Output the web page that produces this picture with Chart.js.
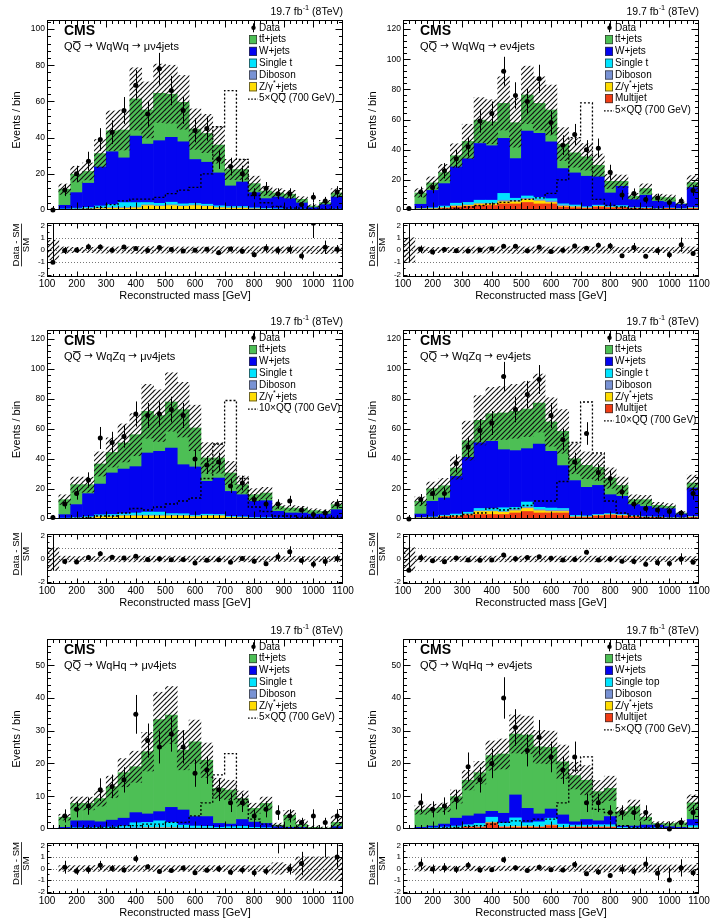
<!DOCTYPE html>
<html>
<head>
<meta charset="utf-8">
<script src="https://cdn.jsdelivr.net/npm/chart.js@4.4.1/dist/chart.umd.min.js"></script>
<style>
  body { margin: 0; background: #fff; width: 717px; height: 922px; position: relative; overflow: hidden; }
  .box { position: absolute; }
</style>
</head>
<body>
<script>
// bins: 100..1100 GeV in 40 GeV steps
const binEdges = [100,140,180,220,260,300,340,380,420,460,500,540,580,620,660,700,740,780,820,860,900,940,980,1020,1060,1100];
const binCenters = [120,160,200,240,280,320,360,400,440,480,520,560,600,640,680,720,760,800,840,880,920,960,1000,1040,1080];
const xTicks = [100,200,300,400,500,600,700,800,900,1000,1100];
const ratioTicks = [-2,-1,0,1,2];

// WqWq, mu
const p1_tt = [0.2,8.9,10.2,6.5,7.4,11.6,15.4,20.6,18.9,26.2,23.9,21.8,16.8,15.9,15.4,9.1,6.9,5.0,4.2,2.2,2.4,2.0,0.9,1.1,2.2];
const p1_w = [0,2.0,8.6,13.4,21.6,29.2,24.7,36.7,32.3,34.6,35.8,34.3,24.3,23.2,18.2,11.4,13.6,8.4,5.4,6.5,5.8,3.4,1.0,2.7,6.7];
const p1_st = [0,0.3,0.4,0.6,1,1.6,2.6,2.4,1.2,1.2,1.4,1,0.8,0.8,0.8,0.6,0.6,0.4,0.3,0.3,0.2,0.2,0.1,0.1,0.2];
const p1_vv = [0,0.1,0.2,0.2,0.4,0.4,0.5,0.5,0.5,0.5,0.5,0.4,0.4,0.4,0.3,0.3,0.3,0.2,0.2,0.1,0.1,0.1,0.1,0.1,0.1];
const p1_zj = [0,0.2,0.4,0.6,0.8,1,1,1.2,2.4,2,2.4,2,2.4,2,1.2,1,1,0.6,0.4,0.3,0.2,0.2,0.1,0.1,0.2];
const p1_data = [0,11,20,27,39,43,55,69,53,78,66,55,44,45,28,24,20,9,12,9,9,3,7,5,10];
const p1_sig = [0,0,0.3,0.5,1.5,3,5,6,6,7,9,11,12.5,20,46,66,28,8,4,2,1,1,0.5,0.5,0.5];
const p1_unc = [0.8,0.25,0.22,0.22,0.25,0.25,0.25,0.28,0.28,0.25,0.25,0.25,0.25,0.25,0.28,0.25,0.25,0.28,0.25,0.25,0.25,0.25,0.3,0.3,0.25];

// WqWq, e
const p2_tt = [0.1,7.5,5,7.3,7.4,11.5,15.5,15.9,23.2,23.8,24,19.9,21.1,16.2,13.3,12.9,7.7,7.7,3.3,2.2,4.4,2.8,2.9,0.4,3.3];
const p2_w = [0.1,2.7,11.5,14.9,24.1,29,37.6,36.1,36.5,26.3,43,42.5,37.7,23.4,21.3,20.2,18.8,8.8,12.8,5.2,8.2,4.9,3.9,3,13.2];
const p2_st = [0,0.3,0.5,1,1.5,1.5,2,2,4.5,1.5,1.5,1.5,1.5,0.8,0.8,0.6,0.6,0.5,1,0.3,0.3,0.2,0.2,0.1,0.3];
const p2_vv = [0,0.1,0.2,0.2,0.5,0.5,0.5,0.5,1,0.8,0.8,0.8,1,0.8,0.5,0.3,0.3,0.3,0.2,0.2,0.2,0.1,0.1,0.1,0.2];
const p2_zj = [0,0.2,0.3,0.4,0.5,0.5,1,1,1.5,1.5,2,2,1,0.5,0.5,0.3,0.3,0.2,0.2,0.2,0.1,0.1,0.1,0.1,0.2];
const p2_mj = [0,0.5,0.5,1,2,2.5,3,3,4,4,5,4,4,2,1.5,1,2,1.5,1.5,1,1,0.5,1,0.5,1];
const p2_data = [1,12,15,26,34,42,59,64,92,76,72,87,58,43,50,40,41,25,10,11,7,8,5,6,13];
const p2_sig = [0,0,0.2,0.5,1,2,3,4,5,6,7,8,11,20,48,71,7,3,2,1,0.5,0.5,0.3,0.3,0.3];
const p2_unc = [1,0.25,0.22,0.22,0.22,0.25,0.25,0.25,0.25,0.28,0.25,0.25,0.25,0.25,0.25,0.25,0.25,0.25,0.22,0.22,0.22,0.22,0.22,0.25,0.25];

// WqZq, mu
const p3_tt = [0.1,10,13.3,6,13.4,13.7,17.4,21.3,27.8,23.8,30.7,36.7,26,15.6,13.4,12.3,6.7,4.4,5.1,3.3,3.3,2.9,2.3,1.8,3.4];
const p3_w = [0.1,2.3,8.6,15.3,20.5,27.7,29.8,30.9,39.4,40.5,43.7,32.7,32.2,21.9,24.3,16.6,14.7,10.8,11.3,4.5,3.5,3.5,2.9,2.9,5.7];
const p3_st = [0,0.2,0.3,0.5,0.8,1,1,1.5,2,2,1,1,0.6,0.8,0.6,0.5,0.4,0.3,0.3,0.2,0.2,0.2,0.1,0.1,0.2];
const p3_vv = [0,0.1,0.2,0.3,0.5,0.5,0.5,0.5,0.6,0.6,0.6,0.5,0.4,0.4,0.4,0.3,0.3,0.2,0.2,0.1,0.1,0.1,0.1,0.1,0.1];
const p3_zj = [0,0.3,0.5,0.8,1.5,1.5,2,2,2,2,2,2,1.5,2,2,1,0.8,0.5,0.4,0.3,0.2,0.2,0.2,0.2,0.2];
const p3_data = [1,10,17,26,54,51,55,70,69,70,73,69,40,36,38,22,24,13,10,10,12,6,3,4,10];
const p3_sig = [0,0,0.5,1,2,2,4,7,6,8,10,12,14,27,50,79,27,8,5,2,2,1,1,1,1];
const p3_unc = [1,0.25,0.22,0.22,0.22,0.22,0.25,0.25,0.25,0.25,0.25,0.25,0.25,0.25,0.25,0.25,0.25,0.25,0.22,0.22,0.22,0.22,0.22,0.22,0.22];

// WqZq, e
const p4_tt = [0.1,8.5,8.4,8.2,5.6,11.1,15.1,18.4,24.5,26.2,26.4,27.3,19.6,22.8,14.6,14.7,12,11.1,7.3,3.3,4.5,1.8,1.5,0.7,3.3];
const p4_w = [0.1,2.3,10.4,11.5,25.1,36.6,43.7,44.8,38.7,37.8,35.6,42.2,37.8,28.6,23.2,19,19.4,12.6,12.1,7.4,6.8,5.9,6,2.5,18.9];
const p4_st = [0,0.2,0.5,0.5,1,1,1.5,1.5,2.5,1.5,3.5,1.5,1.5,1,0.6,0.5,0.4,0.5,0.4,0.3,0.2,0.2,0.2,0.1,0.3];
const p4_vv = [0,0.1,0.1,0.2,0.3,0.5,0.5,0.5,0.5,0.8,0.8,0.8,0.8,1,0.5,0.3,0.3,0.3,0.3,0.2,0.2,0.1,0.1,0.1,0.2];
const p4_zj = [0,0.2,0.3,0.3,0.5,0.5,2,2,1.5,1.5,2,1.5,1,1,0.3,0.3,0.3,0.3,0.3,0.2,0.2,0.1,0.1,0.1,0.3];
const p4_mj = [0,0.5,0.5,1.5,1.5,2.5,3,3,3,4,5,4,4,4,1,1,2,2.5,2,1.5,1,1,0.5,0.5,1];
const p4_data = [0,13,17,17,37,48,59,64,95,73,83,93,69,53,38,57,31,27,18,10,7,6,5,4,17];
const p4_sig = [0,0,0.5,1,2,3,4,7,6,7,9,12,12,25,51,78,44,12,4,2,1,1,0.5,0.5,0.5];
const p4_unc = [1,0.25,0.22,0.22,0.22,0.25,0.25,0.25,0.25,0.25,0.25,0.25,0.25,0.25,0.25,0.25,0.25,0.25,0.25,0.25,0.22,0.22,0.22,0.22,0.22];

// WqHq, mu
const p5_tt = [0,3.1,5.3,5.3,7.1,10.2,13.9,14,19,28.1,28.2,18.3,22.8,17.2,10.7,10.4,6.4,4.2,6.1,0.5,3.7,0.9,0.3,0.2,1.3];
const p5_w = [0,0.4,2.1,2.1,1.7,2.1,2.4,3.1,2.6,2.8,4.6,4.6,2.9,3,1.2,0.8,2.1,1.6,1.3,0.6,0.4,0.4,0.2,0.1,0.6];
const p5_st = [0,0.1,0.2,0.2,0.3,0.4,0.6,1.5,1.5,2,1.5,0.8,0.6,0.5,0.3,0.5,0.6,0.3,0.2,0.1,0.1,0.1,0,0,0.1];
const p5_vv = [0,0,0.1,0.1,0.1,0.1,0.1,0.2,0.2,0.2,0.2,0.2,0.1,0.1,0.1,0.1,0.1,0.1,0.1,0,0,0,0,0,0];
const p5_zj = [0,0,0.1,0.1,0.1,0.1,0.2,0.2,0.3,0.3,0.3,0.2,0.2,0.2,0.1,0.1,0.1,0.1,0.1,0,0,0,0,0,0];
const p5_data = [null,4,6,7,12,13,15,35,27,25,29,25,17,18,12,8,8,4,6,5,4,2,4,2,4];
const p5_sig = [0,0,0.2,0.3,0.5,0.5,1,1,1.5,1.5,2,2,4,8,16.5,23,9,3,1.5,1,0.5,0.3,0.2,0.2,0.2];
const p5_unc = [0,0.25,0.25,0.25,0.25,0.25,0.25,0.25,0.25,0.25,0.25,0.25,0.25,0.25,0.25,0.25,0.25,0.25,0.25,0.5,0.35,1,1,1,1];

// WqHq, e
const p6_tt = [0,5.3,5.4,5.1,6.6,10.9,12.6,17,18.1,18.6,22.4,20.5,18.8,16.2,14.1,12,8.9,8.6,4.4,5.9,2.4,0.5,1,1.4,5.1];
const p6_w = [0,0.3,0.5,0.9,2.4,2.7,2.9,1.8,3,7,4.4,2.4,2.8,2.8,1,1.7,1.2,2.5,0.4,0.5,0.9,0.8,0.5,0.4,1.9];
const p6_st = [0,0.2,0.2,0.3,0.5,0.6,1,1.5,1,2.5,1,1.5,2,1,0.5,0.5,0.6,0.6,0.2,0.2,0.2,0.3,0.1,0.1,0.6];
const p6_vv = [0,0,0.1,0.1,0.1,0.1,0.1,0.2,0.2,0.2,0.2,0.1,0.2,0.1,0.1,0.1,0.1,0.1,0.1,0,0,0,0,0,0.1];
const p6_zj = [0,0,0,0.1,0.1,0.1,0.1,0.1,0.1,0.2,0.2,0.1,0.1,0.1,0.1,0.1,0.1,0.1,0,0,0,0,0,0,0.1];
const p6_mj = [0,0,0.1,0.1,0.2,0.5,0.5,1.8,0.5,0.5,0.5,0.5,1,0.3,0.5,0.5,0.5,0.5,0.2,0.2,0.1,0.1,0.1,0,0.2];
const p6_data = [null,8,6,7,9,19,15,20,40,31,24,28,22,18,22,8,8,5,5,5,5,1,0,2,5];
const p6_sig = [0,0,0.2,0.3,0.5,0.8,1,1.5,2,2.5,2.5,3,3,8,18,22,6,5,1,0.5,0.3,0.3,0.2,0.2,0.2];
const p6_unc = [0,0.22,0.2,0.2,0.2,0.2,0.2,0.2,0.2,0.2,0.2,0.2,0.2,0.25,0.25,0.3,0.3,0.3,0.25,0.3,0.3,0.3,0.3,0.3,0.3];

const COLORS = { tt: '#4dbf55', w: '#0303f0', st: '#00e4ff', vv: '#7892d4', zj: '#ffdc00', mj: '#f03c14' };
const FONT = '"Liberation Sans", Arial, Helvetica, sans-serif';
const ARROW_FONT = '"DejaVu Sans", sans-serif';

const panels = [
  { col: 0, row: 0, ymax: 105, yTicks: [0,20,40,60,80,100], yStep: 4, proc: 'WqWq', lep: 'μ', scale: '5', stLabel: 'Single t',
    tt: p1_tt, w: p1_w, st: p1_st, vv: p1_vv, zj: p1_zj, mj: null, data: p1_data, sig: p1_sig, unc: p1_unc },
  { col: 1, row: 0, ymax: 126, yTicks: [0,20,40,60,80,100,120], yStep: 4, proc: 'WqWq', lep: 'e', scale: '5', stLabel: 'Single t',
    tt: p2_tt, w: p2_w, st: p2_st, vv: p2_vv, zj: p2_zj, mj: p2_mj, data: p2_data, sig: p2_sig, unc: p2_unc },
  { col: 0, row: 1, ymax: 126, yTicks: [0,20,40,60,80,100,120], yStep: 4, proc: 'WqZq', lep: 'μ', scale: '10', stLabel: 'Single t',
    tt: p3_tt, w: p3_w, st: p3_st, vv: p3_vv, zj: p3_zj, mj: null, data: p3_data, sig: p3_sig, unc: p3_unc },
  { col: 1, row: 1, ymax: 126, yTicks: [0,20,40,60,80,100,120], yStep: 4, proc: 'WqZq', lep: 'e', scale: '10', stLabel: 'Single t',
    tt: p4_tt, w: p4_w, st: p4_st, vv: p4_vv, zj: p4_zj, mj: p4_mj, data: p4_data, sig: p4_sig, unc: p4_unc },
  { col: 0, row: 2, ymax: 58, yTicks: [0,10,20,30,40,50], yStep: 2, proc: 'WqHq', lep: 'μ', scale: '5', stLabel: 'Single t',
    tt: p5_tt, w: p5_w, st: p5_st, vv: p5_vv, zj: p5_zj, mj: null, data: p5_data, sig: p5_sig, unc: p5_unc },
  { col: 1, row: 2, ymax: 58, yTicks: [0,10,20,30,40,50], yStep: 2, proc: 'WqHq', lep: 'e', scale: '5', stLabel: 'Single top',
    tt: p6_tt, w: p6_w, st: p6_st, vv: p6_vv, zj: p6_zj, mj: p6_mj, data: p6_data, sig: p6_sig, unc: p6_unc }
];

const COL_LEFT = [47, 403];
const FRAME_W = 296;
const ROWS = [
  { mt: 20, mb: 210, rt: 223, rb: 277 },
  { mt: 330, mb: 519, rt: 534, rb: 584 },
  { mt: 639, mb: 829, rt: 843, rb: 894 }
];

Chart.defaults.font.family = FONT;
Chart.defaults.color = '#000';
Chart.defaults.animation = false;
Chart.defaults.plugins.legend.display = false;
Chart.defaults.plugins.tooltip.enabled = false;

function makeHatch() {
  const c = document.createElement('canvas');
  c.width = 5; c.height = 5;
  const g = c.getContext('2d');
  g.strokeStyle = '#111';
  g.lineWidth = 1.1;
  g.beginPath();
  g.moveTo(-1, 6); g.lineTo(6, -1);
  g.moveTo(-1, 1); g.lineTo(1, -1);
  g.moveTo(4, 6); g.lineTo(6, 4);
  g.stroke();
  return g.createPattern(c, 'repeat');
}
const hatch = makeHatch();

// text with superscripts and overbars
function rich(ctx, segs, x, y, size, align) {
  const parts = segs.map(s => {
    const fs = s.sup ? size * 0.7 : (s.arrow ? size * 0.95 : size);
    const f = (s.bold ? 'bold ' : '') + fs + 'px ' + (s.arrow ? ARROW_FONT : FONT);
    ctx.font = f;
    return { s, f, w: ctx.measureText(s.t).width };
  });
  const total = parts.reduce((a, p) => a + p.w, 0);
  let cx = align === 'right' ? x - total : align === 'center' ? x - total / 2 : x;
  ctx.textAlign = 'left';
  ctx.textBaseline = 'middle';
  parts.forEach(p => {
    ctx.font = p.f;
    ctx.fillText(p.s.t, cx, p.s.sup ? y - size * 0.38 : y);
    if (p.s.over) {
      const oy = Math.round(y - size * 0.52) + 0.5;
      ctx.save();
      ctx.lineWidth = 0.8;
      ctx.beginPath(); ctx.moveTo(cx + 0.5, oy); ctx.lineTo(cx + p.w - 0.5, oy); ctx.stroke();
      ctx.restore();
    }
    cx += p.w;
  });
}

const deco = {
  id: 'deco',
  beforeDatasetsDraw(chart, args, o) {
    if (!o.refLines) return;
    const { ctx, chartArea: a, scales: { y } } = chart;
    ctx.save();
    ctx.strokeStyle = '#777';
    ctx.lineWidth = 1;
    ctx.setLineDash([1, 2]);
    o.refLines.forEach(v => {
      const py = Math.round(y.getPixelForValue(v)) + 0.5;
      ctx.beginPath(); ctx.moveTo(a.left, py); ctx.lineTo(a.right, py); ctx.stroke();
    });
    ctx.restore();
  },
  afterDatasetsDraw(chart) {
    const { ctx, chartArea: a, scales: { x, y } } = chart;
    ctx.save();
    ctx.beginPath(); ctx.rect(a.left, a.top, a.width, a.height); ctx.clip();
    ctx.strokeStyle = '#000';
    ctx.lineWidth = 1;
    chart.data.datasets.forEach(ds => {
      if (!ds.errLo) return;
      ds.data.forEach((p, i) => {
        if (ds.errLo[i] == null) return;
        const px = Math.round(x.getPixelForValue(p.x)) + 0.5;
        ctx.beginPath();
        ctx.moveTo(px, y.getPixelForValue(ds.errLo[i]));
        ctx.lineTo(px, y.getPixelForValue(ds.errHi[i]));
        ctx.stroke();
      });
    });
    ctx.restore();
  },
  afterDraw(chart, args, o) {
    const { ctx, chartArea: a, scales: { x, y } } = chart;
    const L = Math.round(a.left) + 0.5, R = Math.round(a.right) - 0.5;
    const T = Math.round(a.top) + 0.5, B = Math.round(a.bottom) - 0.5;
    ctx.save();
    ctx.strokeStyle = '#000';
    ctx.fillStyle = '#000';
    ctx.lineWidth = 1;
    // inward ticks on all four sides
    ctx.beginPath();
    for (let k = Math.ceil(x.min / o.xStep - 1e-6); k * o.xStep < x.max - 1e-6; k++) {
      const v = k * o.xStep;
      if (v <= x.min + 1e-6) continue;
      const len = Math.abs(k % o.xEvery) === 0 ? o.xLen[0] : o.xLen[1];
      const px = Math.round(x.getPixelForValue(v)) + 0.5;
      ctx.moveTo(px, B); ctx.lineTo(px, B - len);
      ctx.moveTo(px, T); ctx.lineTo(px, T + len);
    }
    for (let k = Math.ceil(y.min / o.yStep - 1e-6); k * o.yStep < y.max - 1e-6; k++) {
      const v = k * o.yStep;
      if (v <= y.min + 1e-6) continue;
      const len = Math.abs(k % o.yEvery) === 0 ? o.yLen[0] : o.yLen[1];
      const py = Math.round(y.getPixelForValue(v)) + 0.5;
      ctx.moveTo(L, py); ctx.lineTo(L + len, py);
      ctx.moveTo(R, py); ctx.lineTo(R - len, py);
    }
    ctx.stroke();
    ctx.strokeRect(L, T, R - L, B - T);

    if (o.kind === 'main') {
      rich(ctx, [{ t: '19.7 fb' }, { t: '-1', sup: true }, { t: ' (8TeV)' }], a.right, a.top - 8, 10.5, 'right');
      rich(ctx, [{ t: 'CMS', bold: true }], a.left + 17, a.top + 11, 14, 'left');
      rich(ctx, o.process, a.left + 17, a.top + 26.5, 11, 'left');
      // legend
      o.legend.forEach((e, i) => {
        const cy = a.top + 7.8 + i * 11.8;
        const bx = a.left + 202;
        if (e.kind === 'box') {
          ctx.fillStyle = e.color;
          ctx.fillRect(bx, cy - 4.5, 8, 9);
          ctx.strokeStyle = '#333';
          ctx.lineWidth = 0.7;
          ctx.strokeRect(bx + 0.35, cy - 4.15, 7.3, 8.3);
        } else if (e.kind === 'data') {
          ctx.fillStyle = '#000';
          ctx.beginPath(); ctx.arc(bx + 4.5, cy, 2.2, 0, Math.PI * 2); ctx.fill();
          ctx.strokeStyle = '#000'; ctx.lineWidth = 1;
          ctx.beginPath(); ctx.moveTo(bx + 4.5, cy - 4.5); ctx.lineTo(bx + 4.5, cy + 4.5); ctx.stroke();
        } else {
          ctx.strokeStyle = '#000'; ctx.lineWidth = 1.4;
          ctx.setLineDash([1.6, 1.6]);
          ctx.beginPath(); ctx.moveTo(bx - 1, cy + 0.5); ctx.lineTo(bx + 9, cy + 0.5); ctx.stroke();
          ctx.setLineDash([]);
        }
        ctx.fillStyle = '#000';
        ctx.strokeStyle = '#000';
        rich(ctx, e.segs, bx + 10, cy, 10, 'left');
      });
      // y title
      ctx.save();
      ctx.translate(a.left - 30, (a.top + a.bottom) / 2 + 5);
      ctx.rotate(-Math.PI / 2);
      ctx.font = '11px ' + FONT;
      ctx.textAlign = 'center'; ctx.textBaseline = 'middle';
      ctx.fillText('Events / bin', 0, 0);
      ctx.restore();
    } else {
      // fraction title
      ctx.save();
      ctx.translate(a.left - 26, (a.top + a.bottom) / 2 - 5);
      ctx.rotate(-Math.PI / 2);
      ctx.font = '9.5px ' + FONT;
      ctx.textAlign = 'center'; ctx.textBaseline = 'middle';
      ctx.fillText('Data - SM', 0, -5);
      ctx.fillText('SM', 0, 5.5);
      const w = ctx.measureText('Data - SM').width;
      ctx.lineWidth = 0.8;
      ctx.beginPath(); ctx.moveTo(-w / 2, 0.5); ctx.lineTo(w / 2, 0.5); ctx.stroke();
      ctx.restore();
      ctx.font = '11px ' + FONT;
      ctx.textAlign = 'center'; ctx.textBaseline = 'middle';
      ctx.fillText('Reconstructed mass [GeV]', a.left + 138, a.bottom + 19);
    }
    ctx.restore();
  }
};

function makeBox(left, top, w, h) {
  const d = document.createElement('div');
  d.className = 'box';
  d.style.left = left + 'px';
  d.style.top = top + 'px';
  d.style.width = w + 'px';
  d.style.height = h + 'px';
  const c = document.createElement('canvas');
  d.appendChild(c);
  document.body.appendChild(d);
  return c;
}

function legendFor(p) {
  const L = [
    { kind: 'data', segs: [{ t: 'Data' }] },
    { kind: 'box', color: COLORS.tt, segs: [{ t: 't' }, { t: 't', over: true }, { t: '+jets' }] },
    { kind: 'box', color: COLORS.w, segs: [{ t: 'W+jets' }] },
    { kind: 'box', color: COLORS.st, segs: [{ t: p.stLabel }] },
    { kind: 'box', color: COLORS.vv, segs: [{ t: 'Diboson' }] },
    { kind: 'box', color: COLORS.zj, segs: [{ t: 'Z/γ' }, { t: '*', sup: true }, { t: '+jets' }] }
  ];
  if (p.mj) L.push({ kind: 'box', color: COLORS.mj, segs: [{ t: 'Multijet' }] });
  L.push({ kind: 'dash', segs: [{ t: p.scale + '×Q' }, { t: 'Q', over: true }, { t: ' (700 GeV)' }] });
  return L;
}

function buildPanel(p) {
  const fl = COL_LEFT[p.col];
  const r = ROWS[p.row];
  const left = fl - 47;
  const W = 47 + FRAME_W + 14;

  // stack order, bottom to top
  const comps = [];
  if (p.mj) comps.push({ arr: p.mj, color: COLORS.mj });
  comps.push({ arr: p.zj, color: COLORS.zj });
  comps.push({ arr: p.vv, color: COLORS.vv });
  comps.push({ arr: p.st, color: COLORS.st });
  comps.push({ arr: p.w, color: COLORS.w });
  comps.push({ arr: p.tt, color: COLORS.tt });
  const total = binCenters.map((_, i) => comps.reduce((s, c) => s + c.arr[i], 0));

  const errLo = p.data.map(d => d == null ? null : d - Math.sqrt(d));
  const errHi = p.data.map(d => d == null ? null : d + (d === 0 ? 1.84 : Math.sqrt(d)));

  const datasets = [
    { type: 'line', showLine: false, order: 0, stack: 'data', clip: false,
      data: binCenters.map((c, i) => ({ x: c, y: p.data[i] })),
      pointRadius: 2.5, pointBackgroundColor: '#000', pointBorderWidth: 0,
      errLo, errHi },
    { type: 'bar', order: 1, stack: 'band', grouped: false, backgroundColor: hatch, borderWidth: 0,
      data: binCenters.map((c, i) => ({ x: c, y: total[i] > 0 ? [total[i] * (1 - p.unc[i]), total[i] * (1 + p.unc[i])] : null })) },
    { type: 'line', order: 2, stack: 'sig', stepped: 'before', borderColor: '#000', borderWidth: 1.3,
      borderDash: [2, 2], pointRadius: 0, fill: false,
      data: binEdges.map((e, i) => ({ x: e, y: p.sig[Math.min(i, p.sig.length - 1)] })) }
  ];
  comps.forEach((c, k) => {
    datasets.push({ type: 'bar', order: 3 + k, backgroundColor: c.color, borderWidth: 0,
      data: binCenters.map((x, i) => ({ x, y: c.arr[i] })) });
  });

  const mainCanvas = makeBox(left, r.mt - 20, W, 20 + (r.mb - r.mt) + 8);
  new Chart(mainCanvas, {
    type: 'bar',
    data: { datasets },
    options: {
      responsive: true,
      maintainAspectRatio: false,
      layout: { padding: { top: 20, right: 14, bottom: 8, left: 0 } },
      datasets: { bar: { barPercentage: 1, categoryPercentage: 1 } },
      scales: {
        x: { type: 'linear', min: 100, max: 1100, offset: false, stacked: true, display: false },
        y: {
          type: 'linear', min: 0, max: p.ymax, stacked: true,
          grid: { display: false, drawTicks: false }, border: { display: false },
          ticks: { font: { size: 8.5 }, padding: 2, callback: v => String(v) },
          afterBuildTicks: s => { s.ticks = p.yTicks.map(v => ({ value: v })); },
          afterFit: s => { s.width = 47; }
        }
      },
      plugins: {
        deco: {
          kind: 'main',
          xStep: 20, xEvery: 5, xLen: [7, 3.5],
          yStep: p.yStep, yEvery: 5, yLen: [7, 3.5],
          process: [{ t: 'Q' }, { t: 'Q', over: true }, { t: ' ' }, { t: '→', arrow: true },
            { t: ' ' + p.proc + ' ' }, { t: '→', arrow: true }, { t: ' ' + p.lep + 'ν4jets' }],
          legend: legendFor(p)
        }
      }
    },
    plugins: [deco]
  });

  // ratio panel
  const ratio = binCenters.map((c, i) => (p.data[i] == null || total[i] <= 0) ? null : (p.data[i] - total[i]) / total[i]);
  const rLo = binCenters.map((c, i) => ratio[i] == null ? null : (errLo[i] - total[i]) / total[i]);
  const rHi = binCenters.map((c, i) => ratio[i] == null ? null : (errHi[i] - total[i]) / total[i]);

  const ratioCanvas = makeBox(left, r.rt - 8, W, 8 + (r.rb - r.rt) + 30);
  new Chart(ratioCanvas, {
    type: 'bar',
    data: {
      datasets: [
        { type: 'line', showLine: false, order: 0,
          data: binCenters.map((c, i) => ({ x: c, y: ratio[i] })),
          pointRadius: 2.5, pointBackgroundColor: '#000', pointBorderWidth: 0,
          errLo: rLo, errHi: rHi },
        { type: 'bar', order: 1, grouped: false, backgroundColor: hatch, borderWidth: 0,
          data: binCenters.map((c, i) => ({ x: c, y: (total[i] > 0 && p.unc[i] > 0) ? [-p.unc[i], p.unc[i]] : null })) }
      ]
    },
    options: {
      responsive: true,
      maintainAspectRatio: false,
      layout: { padding: { top: 8, right: 14, bottom: 0, left: 0 } },
      datasets: { bar: { barPercentage: 1, categoryPercentage: 1 } },
      scales: {
        x: {
          type: 'linear', min: 100, max: 1100, offset: false,
          grid: { display: false, drawTicks: false }, border: { display: false },
          ticks: { font: { size: 10 }, padding: 1, autoSkip: false, maxRotation: 0, callback: v => String(v) },
          afterBuildTicks: s => { s.ticks = xTicks.map(v => ({ value: v })); },
          afterFit: s => { s.height = 30; }
        },
        y: {
          type: 'linear', min: -2.2, max: 2.2,
          grid: { display: false, drawTicks: false }, border: { display: false },
          ticks: { font: { size: 8 }, padding: 2, callback: v => String(v) },
          afterBuildTicks: s => { s.ticks = ratioTicks.map(v => ({ value: v })); },
          afterFit: s => { s.width = 47; }
        }
      },
      plugins: {
        deco: {
          kind: 'ratio',
          refLines: [-1, 0, 1],
          xStep: 20, xEvery: 5, xLen: [5, 2.5],
          yStep: 0.5, yEvery: 2, yLen: [4, 2]
        }
      }
    },
    plugins: [deco]
  });
}

panels.forEach(buildPanel);
</script>
</body>
</html>
